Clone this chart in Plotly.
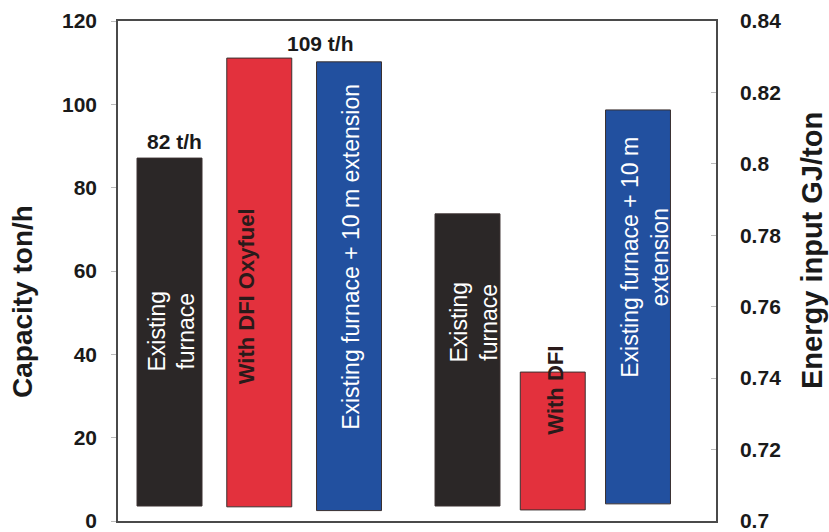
import plotly.graph_objects as go

# ---- data ----
cap_categories = ["Existing furnace", "With DFI Oxyfuel", "Existing furnace + 10 m extension"]
cap_labels = ["Existing<br>furnace", "With DFI Oxyfuel", "Existing furnace + 10 m extension"]
cap_top = [87.1, 111.1, 110.2]      # ton/h (top of bar, left axis)
cap_base = [3.6, 3.4, 2.5]          # bar bottoms as drawn

energy_categories = ["Existing furnace ", "With DFI", "Existing furnace + 10 m extension "]
energy_labels = ["Existing<br>furnace", "With DFI", "Existing furnace + 10 m<br>extension"]
energy_top = [0.786, 0.7417, 0.8151]   # GJ/ton (right axis)
energy_base = [0.7042, 0.7031, 0.7048]

value_labels = ["82 t/h", "109 t/h"]

left_ticks = [0, 20, 40, 60, 80, 100, 120]
right_ticks = [0.7, 0.72, 0.74, 0.76, 0.78, 0.8, 0.82, 0.84]

bar_colors = ["#2b2727", "#e3313d", "#22509f"]
text_colors = ["white", "#2a1a1a", "white"]

FONT = "Liberation Sans, Arial, sans-serif"

fig = go.Figure()

fig.add_trace(go.Bar(
    x=cap_categories,
    y=[t - b for t, b in zip(cap_top, cap_base)],
    base=cap_base,
    width=0.724,
    marker=dict(color=bar_colors, line=dict(color="#3a3030", width=1)),
    xaxis="x", yaxis="y", showlegend=False, hoverinfo="skip",
))
fig.add_trace(go.Bar(
    x=energy_categories,
    y=[t - b for t, b in zip(energy_top, energy_base)],
    base=energy_base,
    width=0.762,
    marker=dict(color=bar_colors, line=dict(color="#3a3030", width=1)),
    xaxis="x2", yaxis="y2", showlegend=False, hoverinfo="skip",
))

annotations = []
# in-bar labels (rotated)
cap_mid = [45.6, 54.0, 63.4]
cap_xshift = [2, -13, 2]
for i, (cat, lab) in enumerate(zip(cap_categories, cap_labels)):
    annotations.append(dict(
        x=cat, y=cap_mid[i], xref="x", yref="y", text=lab, showarrow=False,
        textangle=-90, xshift=cap_xshift[i],
        font=dict(family=FONT, size=23 if i != 1 else 22, color=text_colors[i],
                  weight="bold" if i == 1 else "normal"),
    ))
en_mid = [0.7557, 0.7367, 0.7737]
en_xshift = [7, 3, 7]
for i, (cat, lab) in enumerate(zip(energy_categories, energy_labels)):
    annotations.append(dict(
        x=cat, y=en_mid[i], xref="x2", yref="y2", text=lab, showarrow=False,
        textangle=-90, xshift=en_xshift[i],
        font=dict(family=FONT, size=23 if i != 1 else 22, color=text_colors[i],
                  weight="bold" if i == 1 else "normal"),
    ))

# value labels above bars
annotations.append(dict(
    x=cap_categories[0], y=cap_top[0], xref="x", yref="y", text=value_labels[0],
    showarrow=False, yanchor="bottom", yshift=3, xshift=5,
    font=dict(family=FONT, size=21, color="#1a1a1a", weight="bold"),
))
annotations.append(dict(
    x=cap_categories[1], y=cap_top[1], xref="x", yref="y", text=value_labels[1],
    showarrow=False, yanchor="bottom", yshift=1, xshift=61,
    font=dict(family=FONT, size=21, color="#1a1a1a", weight="bold"),
))

# axis titles
annotations.append(dict(
    x=-0.1605, y=0.438, xref="paper", yref="paper", text="Capacity ton/h",
    showarrow=False, textangle=-90, xanchor="center", yanchor="middle",
    font=dict(family=FONT, size=28, color="#1a1a1a", weight="bold"),
))
annotations.append(dict(
    x=1.1605, y=0.542, xref="paper", yref="paper", text="Energy input GJ/ton",
    showarrow=False, textangle=-90, xanchor="center", yanchor="middle",
    font=dict(family=FONT, size=29, color="#1a1a1a", weight="bold"),
))

tickfont = dict(family=FONT, size=21, color="#1a1a1a", weight="bold")

fig.update_layout(
    width=829, height=532,
    margin=dict(l=118, r=113, t=21, b=11, pad=0, autoexpand=False),
    paper_bgcolor="white", plot_bgcolor="white",
    barmode="overlay",
    xaxis=dict(
        type="category", range=[-0.574, 6.089], showticklabels=False, ticks="",
        showgrid=False, zeroline=False, showline=True, mirror=True,
        linecolor="#4a4a4a", linewidth=1.5, automargin=False,
    ),
    xaxis2=dict(
        type="category", overlaying="x", range=[-4.0997, 2.915], visible=False,
        showgrid=False, zeroline=False, automargin=False,
    ),
    yaxis=dict(
        range=[0, 120], tickmode="array", tickvals=left_ticks,
        ticks="outside", ticklen=5, tickcolor="#bbbbbb", tickwidth=1,
        tickfont=tickfont, ticklabelstandoff=10, ticklabeloverflow="allow",
        showgrid=False, zeroline=False, showline=True, linecolor="#4a4a4a", linewidth=1.5,
        automargin=False,
    ),
    yaxis2=dict(
        range=[0.7, 0.84], overlaying="y", side="right", tickmode="array",
        tickvals=right_ticks, ticktext=[("%g" % v) for v in right_ticks],
        ticks="inside", ticklen=5, tickcolor="#bbbbbb", tickwidth=1,
        tickfont=tickfont, ticklabelstandoff=18, ticklabeloverflow="allow",
        showgrid=False, zeroline=False, showline=True, linecolor="#4a4a4a", linewidth=1.5,
        automargin=False,
    ),
    annotations=annotations,
)

fig.write_html("out.html")
